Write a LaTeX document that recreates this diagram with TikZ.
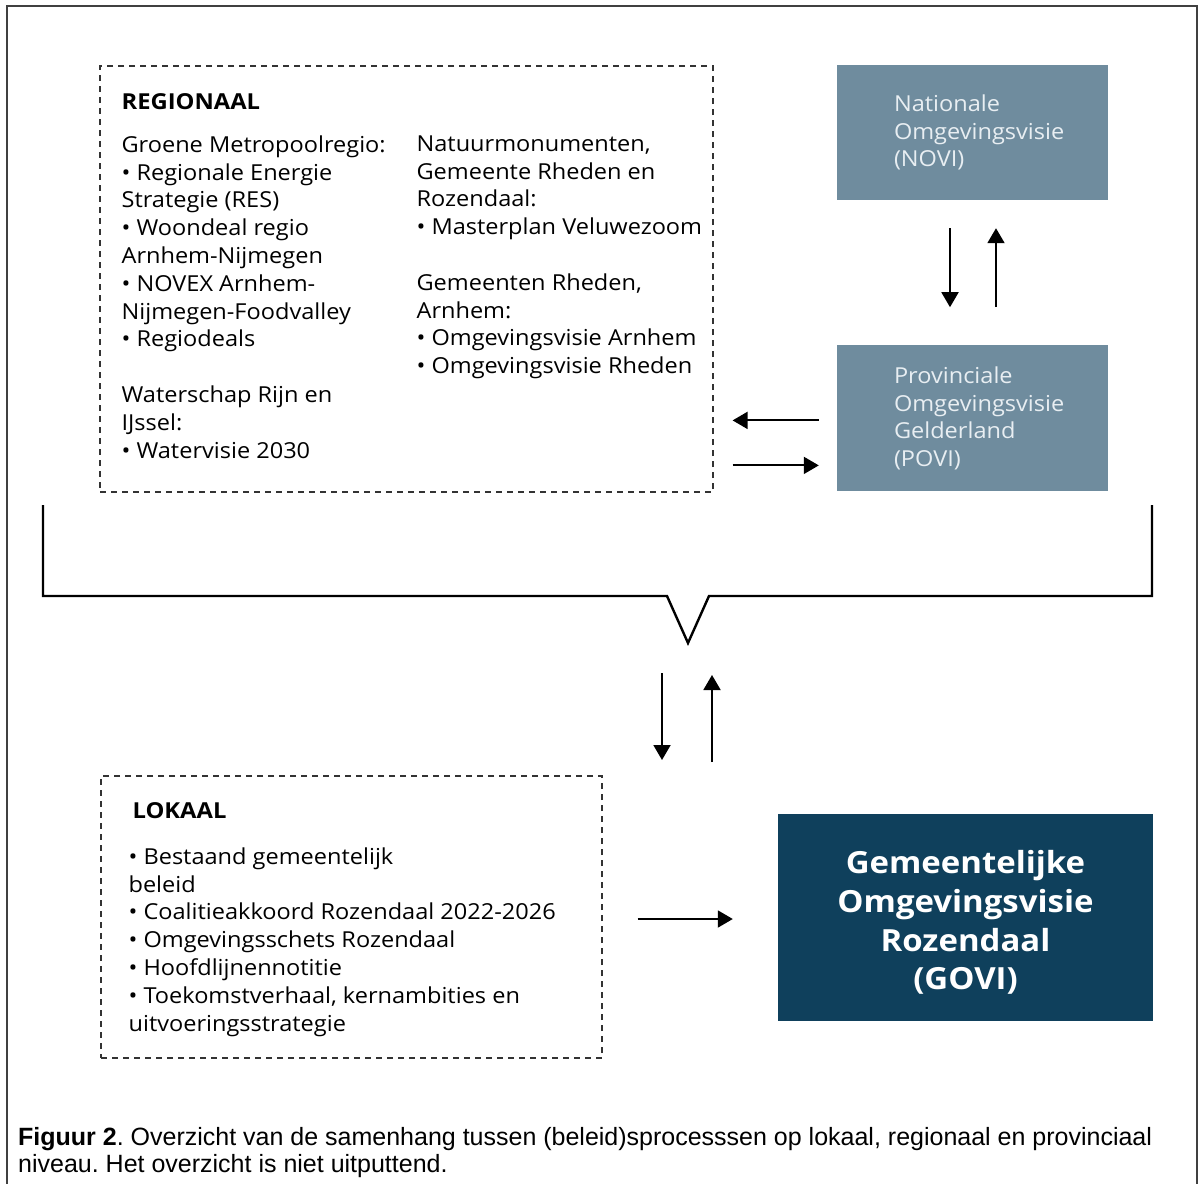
\documentclass[tikz,border=0pt]{standalone}
\usepackage{fontspec}
\setmainfont{Open Sans}[FakeStretch=1.07, BoldFeatures={FakeStretch=1.08}]
\newfontfamily\capfont{Liberation Sans}
\usetikzlibrary{positioning, arrows.meta}
\definecolor{novigrey}{HTML}{6F8C9E}
\definecolor{novitext}{HTML}{E8EEF2}
\definecolor{govidark}{HTML}{0F405C}

\begin{document}
\frenchspacing
\begin{tikzpicture}[x=1pt, y=-1pt, node distance=10pt,
        body/.style={font=\fontsize{22}{27.8}\selectfont, align=left, inner sep=0pt, anchor=north west},
        title/.style={body, font=\fontsize{22}{27.8}\selectfont\bfseries},
        dashbox/.style={draw=black!80, line width=1.2pt, dash pattern=on 6pt off 5pt, inner sep=0pt},
        greybox/.style={fill=novigrey, minimum width=271pt, inner sep=0pt},
        arr/.style={line width=1.9pt, -{Triangle[length=15pt, width=17pt]}}]
        \useasboundingbox (0,0) rectangle (1203,1184);
        \draw[line width=1.5pt, black!75] (7,1184) -- (7,6) -- (1197,6) -- (1197,1184);

        % regionaal
        \node[dashbox, minimum width=613pt, minimum height=426pt]    (regio)       at (406.5,279) {};
        \node[title, below right=28pt and 22pt of regio.north west]   (regio title) {REGIONAAL};
        \node[body, below right=70pt and 22pt of regio.north west]    (regio left)  {Groene Metropoolregio:\\ • Regionale Energie\\ Strategie (RES)\\ • Woondeal regio\\ Arnhem-Nijmegen\\ • NOVEX Arnhem-\\ Nijmegen-Foodvalley\\ • Regiodeals\\[27.8pt] Waterschap Rijn en\\ IJssel:\\ • Watervisie 2030};
        \node[body, below right=70pt and 317pt of regio.north west]   (regio right) {Natuurmonumenten,\\ Gemeente Rheden en\\ Rozendaal:\\ • Masterplan Veluwezoom\\[27.8pt] Gemeenten Rheden,\\ Arnhem:\\ • Omgevingsvisie Arnhem\\ • Omgevingsvisie Rheden};

        % nationaal en provinciaal
        \node[greybox, minimum height=135pt]                          (novi)      at (972.5,132.5) {};
        \node[body, text=novitext, right=57pt of novi.west]           (novi text) {Nationale\\ Omgevingsvisie\\ (NOVI)};
        \node[greybox, minimum height=146pt, below=145pt of novi]     (povi)      {};
        \node[body, text=novitext, right=57pt of povi.west]           (povi text) {Provinciale\\ Omgevingsvisie\\ Gelderland\\ (POVI)};

        \draw[arr, shorten <=28pt, shorten >=38pt] ([xshift=-22.5pt]novi.south) -- ([xshift=-22.5pt]povi.north);
        \draw[arr, shorten <=38pt, shorten >=28pt] ([xshift=23.5pt]povi.north) -- ([xshift=23.5pt]novi.south);

        \coordinate (povi in)  at ([yshift=-2pt]povi.west);
        \coordinate (povi out) at ([yshift=-47pt]povi.west);
        \draw[arr, shorten <=18pt, shorten >=19pt] (povi in) -- (povi in -| regio.east);
        \draw[arr, shorten <=19pt, shorten >=18pt] (povi out -| regio.east) -- (povi out);

        % haak
        \coordinate (brace left)  at (43,505);
        \coordinate (brace right) at (1152,505);
        \coordinate (brace tip)   at (688,643);
        \coordinate (level low)   at (688,762);
        \draw[line width=2.4pt] (brace left) -- (43,596) -- (667,596) -- (brace tip) -- (709,596) -- (1152,596) -- (brace right);

        \draw[arr, shorten <=30pt, shorten >=2pt] ([xshift=-26pt]brace tip) -- ([xshift=-26pt]level low);
        \draw[arr, shorten >=32pt] ([xshift=24pt]level low) -- ([xshift=24pt]brace tip);

        % lokaal
        \node[dashbox, minimum width=501pt, minimum height=282pt]     (lokaal)       at (351.5,917) {};
        \node[title, below right=27pt and 32pt of lokaal.north west]  (lokaal title) {LOKAAL};
        \node[body, below right=72pt and 28pt of lokaal.north west]   (lokaal list)  {• Bestaand gemeentelijk\\ beleid\\ • Coalitieakkoord Rozendaal 2022-2026\\ • Omgevingsschets Rozendaal\\ • Hoofdlijnennotitie\\ • Toekomstverhaal, kernambities en\\ uitvoeringsstrategie};

        \node[fill=govidark, minimum width=375pt, minimum height=207pt, inner sep=0pt] (govi) at (965.5,917.5) {};
        \node[inner sep=0pt, text=white, font=\fontsize{30.5}{38.7}\selectfont\bfseries, align=center] (govi text) at ([yshift=-5pt]govi.center)
              {Gemeentelijke\\ Omgevingsvisie\\ Rozendaal\\ (GOVI)};

        \coordinate (lokaal out) at ([yshift=-2pt]lokaal.east);
        \draw[arr, shorten <=35pt, shorten >=45pt] (lokaal out) -- (lokaal out -| govi.west);

        \node[anchor=north west, inner sep=0pt, align=left, font=\capfont\fontsize{25}{27}\selectfont] (caption) at (18,1127)
              {\textbf{Figuur 2}. Overzicht van de samenhang tussen (beleid)sprocesssen op lokaal, regionaal en provinciaal\\ niveau. Het overzicht is niet uitputtend.};
\end{tikzpicture}
\end{document}
